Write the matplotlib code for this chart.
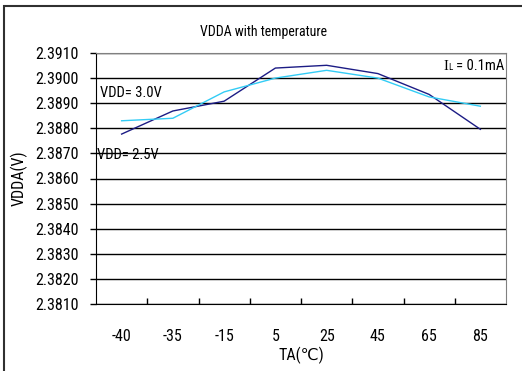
import numpy as np
import matplotlib
matplotlib.use('Agg')
import matplotlib.pyplot as plt
from matplotlib.patches import Rectangle

temps = ['-40', '-35', '-15', '5', '25', '45', '65', '85']
vdda_a = [2.38777, 2.38869, 2.38908, 2.39040, 2.39051, 2.39018, 2.38935, 2.38796]
vdda_b = [2.38830, 2.38840, 2.38945, 2.39000, 2.39031, 2.39000, 2.38925, 2.38888]
yticks = np.round(np.arange(2.3810, 2.39101, 0.001), 4)

FONT = ['Roboto Condensed', 'DejaVu Sans']
plt.rcParams['font.family'] = FONT

W, H = 522, 371
fig = plt.figure(figsize=(W / 100, H / 100), dpi=100)
ax = fig.add_axes([96 / W, 1 - 304 / H, 410 / W, 251 / H])

x = np.arange(len(temps))
ax.plot(x, vdda_a, color='#1c1c85', lw=1.0, zorder=3)
ax.plot(x, vdda_b, color='#33ccf5', lw=1.0, zorder=3)

ax.set_xlim(-0.5, len(temps) - 0.5)
ax.set_ylim(2.3810, 2.3910)
ax.set_yticks(yticks)
ax.set_yticklabels(['%.4f' % v for v in yticks], fontsize=11.5)
ax.yaxis.grid(True, color='black', lw=1.0)
ax.tick_params(axis='y', direction='out', length=4, width=1, pad=8.5)

ax.set_xticks(x)
ax.set_xticklabels(temps, fontsize=11.5)
ax.tick_params(axis='x', which='major', length=0, pad=18)
ax.set_xticks(np.arange(0.5, len(temps) - 0.5), minor=True)
ax.tick_params(axis='x', which='minor', direction='in', length=4, width=1)

for s in ['top', 'right']:
    ax.spines[s].set_color('#808080')
for s in ['left', 'bottom']:
    ax.spines[s].set_color('black')

ax.set_xlabel('TA(\u2103)', fontsize=11.5, labelpad=0)
ax.xaxis.set_label_coords(0.5, -43 / 251)
ax.set_ylabel('VDDA(V)', fontsize=11.5)
ax.yaxis.set_label_coords(-68 / 410, 0.5)

def px_text(px, py, s, **kw):
    fig.text(px / W, 1 - py / H, s, **kw)

px_text(264, 32, 'VDDA with temperature', ha='center', va='center', fontsize=10)
px_text(100, 93, 'VDD= 3.0V', ha='left', va='center', fontsize=10.5)
px_text(97, 155, 'VDD= 2.5V', ha='left', va='center', fontsize=10.5)
px_text(456, 66, '= 0.1mA', ha='left', va='center', fontsize=10.5)
px_text(443, 66, 'I', ha='left', va='center', fontsize=10.5, family='Liberation Serif')
px_text(448, 68, 'L', ha='left', va='center', fontsize=6.5)

# outer chart frame
fig.patches.append(Rectangle((3.5 / W, -0.1), 1.2, 1.1 - 6.5 / H, transform=fig.transFigure,
                             fill=False, ec='#303030', lw=1.5, zorder=0))

fig.savefig('out.png', dpi=100)
